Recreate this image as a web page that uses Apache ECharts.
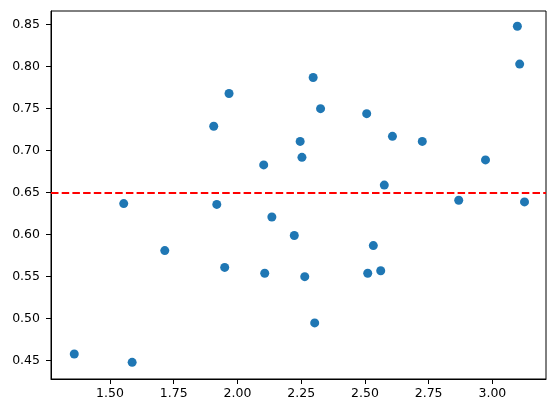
<!DOCTYPE html>
<html lang="en">
<head>
    <meta charset="UTF-8">
    <title>scatter</title>
    <script src="https://cdn.jsdelivr.net/npm/echarts@6/dist/echarts.min.js"></script>
    <style>
        html, body { margin: 0; padding: 0; background: #fff; }
        #main { width: 556px; height: 413px; }
    </style>
</head>
<body>
<div id="main"></div>
<script type="text/javascript">
    // point coordinates
    var xValues = [3.098, 3.107, 1.967, 2.297, 2.326, 2.507, 1.907, 2.246, 2.608, 2.725,
                   2.253, 2.103, 2.973, 2.576, 1.554, 1.919, 2.868, 3.126, 2.135, 2.223,
                   2.533, 1.715, 1.950, 2.107, 2.264, 2.511, 2.562, 2.303, 1.360, 1.587];
    var yValues = [0.848, 0.803, 0.768, 0.787, 0.750, 0.744, 0.729, 0.711, 0.717, 0.711,
                   0.692, 0.683, 0.689, 0.659, 0.637, 0.636, 0.641, 0.639, 0.621, 0.599,
                   0.587, 0.581, 0.561, 0.554, 0.550, 0.554, 0.557, 0.495, 0.458, 0.448];
    var meanLine = 0.646;
    var xTicks = [1.50, 1.75, 2.00, 2.25, 2.50, 2.75, 3.00];
    var yTicks = [0.45, 0.50, 0.55, 0.60, 0.65, 0.70, 0.75, 0.80, 0.85];

    var points = [];
    for (var i = 0; i < xValues.length; i++) {
        points.push([xValues[i], yValues[i]]);
    }

    var font = 'DejaVu Sans';
    var myChart = echarts.init(document.getElementById('main'));
    myChart.setOption({
        animation: false,
        grid: {
            left: 51,
            top: 11,
            width: 495,
            height: 368,
            show: true,
            borderColor: '#000',
            borderWidth: 1
        },
        xAxis: {
            type: 'value',
            min: 1.2687,
            max: 3.2103,
            splitLine: { show: false },
            axisLine: { show: true, lineStyle: { color: '#000', width: 1 } },
            axisTick: {
                show: true,
                length: 5,
                lineStyle: { color: '#000', width: 1 },
                customValues: xTicks
            },
            axisLabel: {
                color: '#000',
                fontFamily: font,
                fontSize: 12.5,
                margin: 8,
                customValues: xTicks,
                formatter: function (v) { return v.toFixed(2); }
            }
        },
        yAxis: {
            type: 'value',
            min: 0.4282,
            max: 0.8662,
            splitLine: { show: false },
            axisLine: { show: true, lineStyle: { color: '#000', width: 1 } },
            axisTick: {
                show: true,
                length: 5,
                lineStyle: { color: '#000', width: 1 },
                customValues: yTicks
            },
            axisLabel: {
                color: '#000',
                fontFamily: font,
                fontSize: 12.5,
                margin: 11,
                customValues: yTicks,
                formatter: function (v) { return v.toFixed(2); }
            }
        },
        series: [
            {
                type: 'scatter',
                symbolSize: 9,
                itemStyle: { color: '#1f77b4', opacity: 1 },
                emphasis: { disabled: true },
                data: points,
                markLine: {
                    silent: true,
                    symbol: ['none', 'none'],
                    label: { show: false },
                    lineStyle: { color: '#ff0000', type: [7.5, 3.2], width: 2 },
                    emphasis: { disabled: true },
                    data: [{ yAxis: meanLine }]
                }
            }
        ]
    });
</script>
</body>
</html>
